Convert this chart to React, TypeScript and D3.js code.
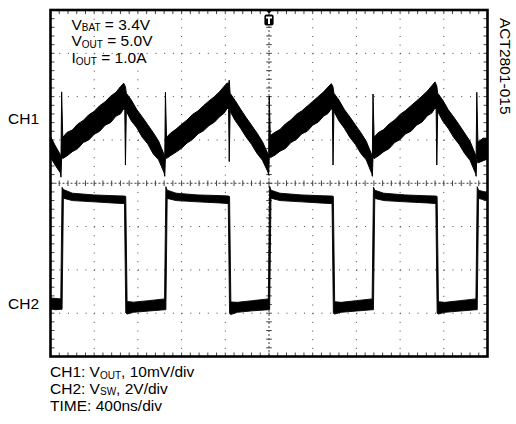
import React, { useEffect, useRef } from 'react';
import * as d3 from 'd3';

const W = 516;
const H = 424;

// scope setup: 10 x 8 divisions, 400ns/div
const timeDomain: [number, number] = [0, 4000];
const divDomain: [number, number] = [-4, 4];
const ch1Offset = 1.5;   // div
const ch2Offset = -2.77; // div
const ch1PerDiv = 10;    // mV/div
const ch2PerDiv = 2;     // V/div

// CH1 (VOUT ripple) band: [time ns, upper mV, lower mV]
const ch1Band: [number, number, number][] = [
  [0, -4.2, -9.0], [45, -6.4, -10.9], [90, -8.4, -12.6], [96, -8.8, -13.6],
  [102, 6.1, -9.0], [112, -4.4, -9.3], [150, -3.3, -8.7], [200, -2.7, -7.7],
  [250, -1.3, -7.0], [300, -0.5, -5.6], [350, 0.8, -5.0], [400, 1.6, -3.7],
  [450, 2.9, -3.0], [500, 3.8, -1.6], [550, 5.1, -1.0], [600, 6.0, 0.5],
  [640, 7.3, 1.0], [670, 8.1, 2.2], [680, 7.6, 1.8], [686, 7.2, -10.8],
  [694, 5.8, 1.6], [740, 4.2, -0.6], [790, 2.0, -2.2], [840, 0.3, -4.4],
  [890, -1.5, -5.9], [940, -3.3, -8.2], [990, -5.3, -9.6], [1040, -8.4, -12.6],
  [1046, -8.8, -13.4], [1052, 6.0, -9.0], [1062, -4.4, -9.3], [1100, -3.4, -8.6],
  [1150, -2.5, -7.8], [1200, -1.4, -6.9], [1250, -0.4, -5.7], [1300, 0.9, -4.9],
  [1350, 1.7, -3.6], [1400, 2.9, -2.9], [1450, 4.0, -1.7], [1500, 5.0, -0.9],
  [1550, 6.2, 0.4], [1590, 7.4, 1.2], [1620, 8.2, 2.4], [1630, 7.8, 2.0],
  [1636, 8.8, -10.0], [1644, 5.8, 1.6], [1690, 4.1, -0.5], [1740, 2.1, -2.3],
  [1790, 0.2, -4.3], [1840, -1.6, -6.0], [1890, -3.4, -8.1], [1940, -5.4, -9.7],
  [1990, -8.2, -12.4], [1997, -8.8, -13.1], [2002, 5.1, -9.0], [2012, -4.0, -9.0],
  [2050, -3.3, -8.6], [2100, -2.6, -7.6], [2150, -1.3, -7.0], [2200, -0.4, -5.6],
  [2250, 0.9, -4.9], [2300, 1.7, -3.6], [2350, 2.8, -3.0], [2400, 3.9, -1.6],
  [2450, 5.0, -0.9], [2500, 6.1, 0.5], [2540, 7.2, 1.1], [2570, 8.0, 2.2],
  [2580, 7.6, 1.9], [2586, 7.2, -10.8], [2594, 5.8, 1.6], [2640, 4.2, -0.6],
  [2690, 2.0, -2.3], [2740, 0.3, -4.4], [2790, -1.5, -6.0], [2840, -3.3, -8.1],
  [2890, -5.3, -9.6], [2940, -8.4, -12.7], [2946, -8.8, -13.4], [2952, 5.6, -9.0],
  [2962, -4.4, -9.3], [3000, -3.3, -8.7], [3050, -2.6, -7.7], [3100, -1.3, -7.0],
  [3150, -0.4, -5.6], [3200, 0.9, -4.9], [3250, 1.8, -3.6], [3300, 2.9, -3.0],
  [3350, 4.0, -1.6], [3400, 5.1, -0.9], [3450, 6.3, 0.6], [3490, 7.5, 1.2],
  [3520, 8.4, 2.4], [3530, 7.8, 2.0], [3536, 7.4, -10.8], [3544, 5.8, 1.6],
  [3590, 4.2, -0.6], [3640, 2.0, -2.3], [3690, 0.3, -4.4], [3740, -1.5, -6.0],
  [3790, -3.4, -8.1], [3840, -5.3, -9.7], [3890, -8.4, -12.7], [3896, -8.8, -13.4],
  [3902, 6.0, -9.0], [3912, -5.5, -10.3], [3960, -4.6, -9.8], [4000, -4.6, -9.4],
];

// CH2 (VSW) band: [time ns, upper V, lower V]
const ch2Band: [number, number, number][] = [
  [0, 0.24, -0.27], [50, 0.22, -0.3], [94, 0.2, -0.28], [106, 5.35, -0.28],
  [118, 5.25, 4.85], [200, 5.08, 4.74], [400, 5.0, 4.68], [600, 4.96, 4.62],
  [677, 4.95, 4.6], [689, 4.93, -0.45], [701, 0.08, -0.5], [760, 0.05, -0.42],
  [900, 0.12, -0.36], [1044, 0.2, -0.3], [1056, 5.38, -0.3], [1068, 5.22, 4.84],
  [1150, 5.08, 4.74], [1350, 5.0, 4.68], [1550, 4.97, 4.63], [1627, 4.95, 4.6],
  [1639, 4.93, -0.47], [1651, 0.06, -0.52], [1710, 0.04, -0.42], [1850, 0.12, -0.35],
  [1994, 0.2, -0.3], [2006, 5.4, -0.3], [2018, 5.22, 4.85], [2100, 5.08, 4.74],
  [2300, 5.0, 4.68], [2500, 4.96, 4.62], [2577, 4.95, 4.6], [2589, 4.93, -0.46],
  [2601, 0.07, -0.5], [2660, 0.04, -0.42], [2800, 0.12, -0.36], [2944, 0.2, -0.3],
  [2956, 5.36, -0.3], [2968, 5.22, 4.84], [3050, 5.08, 4.74], [3250, 5.0, 4.68],
  [3450, 4.96, 4.63], [3527, 4.95, 4.6], [3539, 4.93, -0.46], [3551, 0.07, -0.5],
  [3610, 0.04, -0.42], [3750, 0.12, -0.36], [3894, 0.2, -0.3], [3906, 5.38, -0.3],
  [3918, 5.22, 4.84], [4000, 5.1, 4.74],
];

const conditions = [
  { main: 'V', sub: 'BAT', rest: ' = 3.4V' },
  { main: 'V', sub: 'OUT', rest: ' = 5.0V' },
  { main: 'I', sub: 'OUT', rest: ' = 1.0A' },
];

const captions = [
  { main: 'CH1: V', sub: 'OUT', rest: ', 10mV/div' },
  { main: 'CH2: V', sub: 'SW', rest: ', 2V/div' },
  { main: 'TIME: 400ns/div', sub: '', rest: '' },
];

const channelLabels = [
  { name: 'CH1', offset: ch1Offset },
  { name: 'CH2', offset: ch2Offset },
];

const figureId = 'ACT2801-015';

const FONT = '"Liberation Sans", Arial, Helvetica, sans-serif';

const App: React.FC = () => {
  const ref = useRef<SVGSVGElement | null>(null);

  useEffect(() => {
    if (!ref.current) return;
    const left = 50.5, right = 487.5, top = 10, bottom = 356.5;

    const x = d3.scaleLinear().domain(timeDomain).range([left, right]);
    const y = d3.scaleLinear().domain(divDomain).range([bottom, top]);
    const yCh1 = (mv: number) => y(ch1Offset + mv / ch1PerDiv);
    const yCh2 = (v: number) => y(ch2Offset + v / ch2PerDiv);

    const svg = d3.select(ref.current);
    svg.selectAll('*').remove();

    const g = svg.append('g');
    const minorX = (right - left) / 50;
    const minorY = (bottom - top) / 40;

    // dotted graticule
    d3.range(1, 10).filter(k => k !== 5).forEach(k => {
      const gx = left + (k * (right - left)) / 10;
      g.append('line')
        .attr('x1', gx).attr('x2', gx).attr('y1', top).attr('y2', bottom)
        .attr('stroke', '#444').attr('stroke-width', 1)
        .attr('stroke-dasharray', `1 ${minorY - 1}`);
    });
    d3.range(-3, 4).filter(k => k !== 0).forEach(k => {
      const gy = y(k);
      g.append('line')
        .attr('x1', left).attr('x2', right).attr('y1', gy).attr('y2', gy)
        .attr('stroke', '#444').attr('stroke-width', 1)
        .attr('stroke-dasharray', `1 ${minorX - 1}`);
    });

    // center axes with minor ticks
    const cx = x(2000), cy = y(0);
    g.append('line').attr('x1', left).attr('x2', right).attr('y1', cy).attr('y2', cy)
      .attr('stroke', '#444').attr('stroke-dasharray', '2 2');
    g.append('line').attr('x1', cx).attr('x2', cx).attr('y1', top).attr('y2', bottom)
      .attr('stroke', '#444').attr('stroke-dasharray', '2 2');
    d3.range(1, 50).forEach(i => {
      const tx = left + i * minorX;
      g.append('line').attr('x1', tx).attr('x2', tx).attr('y1', cy - 2.8).attr('y2', cy + 2.8)
        .attr('stroke', '#444');
      g.append('line').attr('x1', tx).attr('x2', tx).attr('y1', top).attr('y2', top + 4)
        .attr('stroke', '#444');
      g.append('line').attr('x1', tx).attr('x2', tx).attr('y1', bottom - 4).attr('y2', bottom)
        .attr('stroke', '#444');
    });
    d3.range(1, 40).forEach(i => {
      const ty = top + i * minorY;
      g.append('line').attr('x1', cx - 2.8).attr('x2', cx + 2.8).attr('y1', ty).attr('y2', ty)
        .attr('stroke', '#444');
      g.append('line').attr('x1', left).attr('x2', left + 4).attr('y1', ty).attr('y2', ty)
        .attr('stroke', '#444');
      g.append('line').attr('x1', right - 4).attr('x2', right).attr('y1', ty).attr('y2', ty)
        .attr('stroke', '#444');
    });

    // traces
    const area1 = d3.area<[number, number, number]>()
      .x(d => x(d[0])).y1(d => yCh1(d[1])).y0(d => yCh1(d[2]));
    const area2 = d3.area<[number, number, number]>()
      .x(d => x(d[0])).y1(d => yCh2(d[1])).y0(d => yCh2(d[2]));
    g.append('path').attr('d', area1(ch1Band) || '')
      .attr('fill', '#000').attr('stroke', '#000').attr('stroke-width', 1);
    g.append('path').attr('d', area2(ch2Band) || '')
      .attr('fill', '#000').attr('stroke', '#000').attr('stroke-width', 0.9);

    // frame
    g.append('rect').attr('x', left).attr('y', top)
      .attr('width', right - left).attr('height', bottom - top)
      .attr('fill', 'none').attr('stroke', '#000').attr('stroke-width', 2.6);

    // trigger marker
    g.append('path')
      .attr('d', `M${cx - 3.5},${top} L${cx + 3.5},${top} L${cx},${top + 3.5} Z`)
      .attr('fill', '#000');
    g.append('rect').attr('x', cx - 4.6).attr('y', top + 4.5).attr('width', 9.2).attr('height', 11)
      .attr('rx', 2).attr('fill', '#000');
    g.append('path')
      .attr('d', `M${cx - 3},${top + 6.5} h6 v2 h-2 v5.5 h-2 v-5.5 h-2 Z`)
      .attr('fill', '#fff');

    const writeRich = (
      parent: d3.Selection<SVGGElement, unknown, null, undefined>,
      tx: number, ty: number, item: { main: string; sub: string; rest: string },
    ) => {
      const t = parent.append('text').attr('x', tx).attr('y', ty)
        .attr('font-family', FONT).attr('font-size', 15.5).attr('fill', '#000');
      t.append('tspan').text(item.main);
      if (item.sub) {
        t.append('tspan').attr('font-size', 10).attr('dy', 1.5).text(item.sub);
        t.append('tspan').attr('dy', -1.5).text(item.rest);
      }
    };

    conditions.forEach((c, i) => writeRich(g, 71.5, 29.5 + i * 16.8, c));
    captions.forEach((c, i) => writeRich(g, 50, 377 + i * 16.8, c));

    channelLabels.forEach(c => {
      g.append('text').attr('x', 8).attr('y', y(c.offset) + 5.5)
        .attr('font-family', FONT).attr('font-size', 15.5).attr('fill', '#000')
        .text(c.name);
    });

    g.append('text')
      .attr('transform', `translate(500,18) rotate(90)`)
      .attr('font-family', FONT).attr('font-size', 15.5).attr('fill', '#000')
      .text(figureId);
  }, []);

  return (
    <div style={{ position: 'absolute', left: 0, top: 0, background: '#fff' }}>
      <svg ref={ref} width={W} height={H} style={{ display: 'block' }} />
    </div>
  );
};

export default App;
